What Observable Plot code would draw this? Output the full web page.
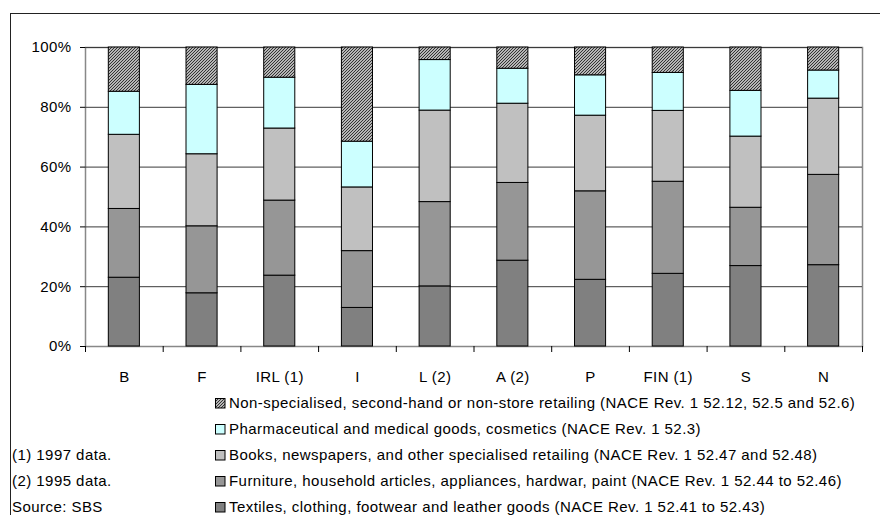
<!DOCTYPE html>
<html><head><meta charset="utf-8">
<script src="https://cdn.jsdelivr.net/npm/d3@7"></script>
<script src="https://cdn.jsdelivr.net/npm/@observablehq/plot@0.6"></script>
<style>
body{margin:0;background:#fff;font-family:"Liberation Sans",Arial,sans-serif;color:#000;}
#wrap{position:relative;width:880px;height:515px;overflow:hidden;background:#fff;}
#frame{position:absolute;left:10px;top:13px;width:900px;height:600px;border-left:1.5px solid #222;border-top:1.5px solid #222;}
#chart{position:absolute;left:0;top:0;}
.row{position:absolute;font-size:15px;letter-spacing:0.45px;line-height:16px;white-space:nowrap;display:flex;align-items:center;}
.row svg{margin-right:3px;}
</style></head>
<body>
<svg width="0" height="0" style="position:absolute">
  <defs>
    <pattern id="hatch" patternUnits="userSpaceOnUse" width="3" height="3">
      <rect width="3" height="3" fill="#eeeeee"></rect>
      <path d="M-1,1 l2,-2 M0,3 l3,-3 M2,4 l2,-2" stroke="#2a2a2a" stroke-width="1.1"></path>
    </pattern>
  </defs>
</svg>
<div id="wrap">
  <div id="frame"></div>
  <div id="chart"></div>
  <div id="legend"></div>
  <div id="notes"></div>
</div>
<script>
const countries = ["B", "F", "IRL (1)", "I", "L (2)", "A (2)", "P", "FIN (1)", "S", "N"];
const seriesNames = [
  "Textiles, clothing, footwear and leather goods (NACE Rev. 1 52.41 to 52.43)",
  "Furniture, household articles, appliances, hardwar, paint (NACE Rev. 1 52.44 to 52.46)",
  "Books, newspapers, and other specialised retailing (NACE Rev. 1 52.47 and 52.48)",
  "Pharmaceutical and medical goods, cosmetics (NACE Rev. 1 52.3)",
  "Non-specialised, second-hand or non-store retailing (NACE Rev. 1 52.12, 52.5 and 52.6)"
];
const textiles  = [23.0, 17.8, 23.7, 12.9, 20.1, 28.7, 22.3, 24.3, 26.9, 27.2];
const furniture = [23.0, 22.4, 25.1, 19.0, 28.2, 26.0, 29.6, 30.8, 19.5, 30.2];
const books     = [24.8, 24.1, 24.1, 21.3, 30.6, 26.5, 25.3, 23.7, 23.8, 25.5];
const pharma    = [14.4, 23.2, 17.0, 15.3, 16.9, 11.7, 13.5, 12.7, 15.3,  9.4];
const nonSpec   = [14.8, 12.5, 10.1, 31.5,  4.2,  7.1,  9.3,  8.5, 14.5,  7.7];
const seriesColors = ["#808080", "#969696", "#c0c0c0", "#ccffff", "url(#hatch)"];
const yTicks = [0, 20, 40, 60, 80, 100];
const notes = ["(1) 1997 data.", "(2) 1995 data.", "Source: SBS"];

const seriesValues = [textiles, furniture, books, pharma, nonSpec];
const data = [];
seriesNames.forEach((s, si) => {
  countries.forEach((c, ci) => data.push({country: c, series: s, value: seriesValues[si][ci]}));
});

const W = 880, H = 395, ML = 85, MR = 18, MT = 47, MB = 49;
const step = (W - ML - MR) / countries.length;

const plot = Plot.plot({
  width: W, height: H,
  marginLeft: ML, marginRight: MR, marginTop: MT, marginBottom: MB,
  style: {fontFamily: "'Liberation Sans', Arial, sans-serif", fontSize: "15px", letterSpacing: "0.4px", color: "#000", background: "transparent", overflow: "visible"},
  x: {domain: countries, paddingInner: 0.6, paddingOuter: 0.3, round: false, label: null, axis: null},
  y: {domain: [0, 100], label: null, axis: null},
  color: {domain: seriesNames, range: seriesColors},
  marks: [
    Plot.frame({stroke: "#888", strokeWidth: 1.5}),
    Plot.gridY([20, 40, 60, 80, 100], {stroke: "#3a3a3a", strokeOpacity: 1, strokeWidth: 1}),
    Plot.barY(data, {x: "country", y: "value", fill: "series", stroke: "#000", strokeWidth: 1}),
    Plot.axisY(yTicks, {tickFormat: d => d + "%", tickSize: 5, tickPadding: 9, line: true, label: null, stroke: "#000"}),
    Plot.axisX(countries, {tickSize: 6, dx: -step / 2, text: null, line: true, label: null}),
    Plot.axisX([countries[countries.length - 1]], {tickSize: 6, dx: step / 2, text: null, label: null}),
    Plot.axisX(countries, {tickSize: 0, tickPadding: 25, label: null})
  ]
});
document.getElementById("chart").appendChild(plot);

const legend = document.getElementById("legend");
const order = [4, 3, 2, 1, 0];
order.forEach((si, k) => {
  const row = document.createElement("div");
  row.className = "row";
  row.style.left = "214px";
  row.style.top = (395 + k * 26) + "px";
  row.innerHTML = `<svg width="12" height="12"><rect x="1.5" y="1.5" width="9.5" height="9.5" fill="${seriesColors[si]}" stroke="#000" stroke-width="1"></rect></svg><span>${seriesNames[si]}</span>`;
  legend.appendChild(row);
});
const notesDiv = document.getElementById("notes");
notes.forEach((t, k) => {
  const row = document.createElement("div");
  row.className = "row";
  row.style.left = "12px";
  row.style.top = (447 + k * 26) + "px";
  row.textContent = t;
  notesDiv.appendChild(row);
});
</script>
</body></html>
